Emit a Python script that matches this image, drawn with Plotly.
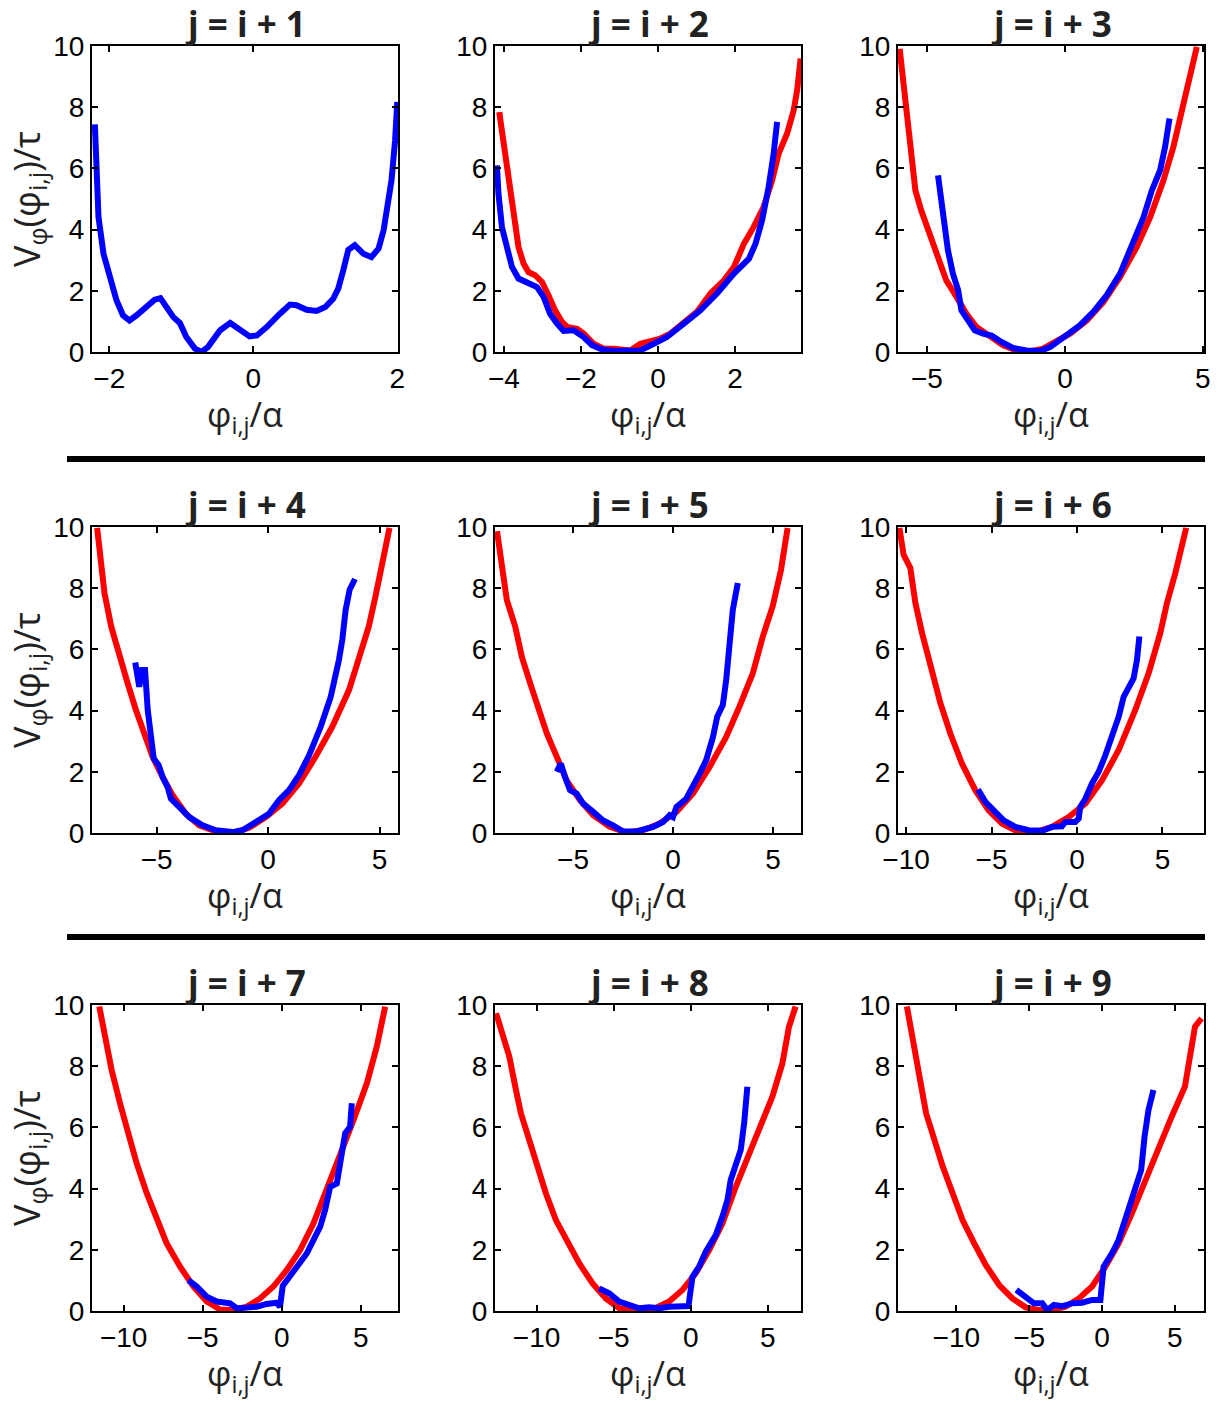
import plotly.graph_objects as go

# ---------------- data ----------------
titles = ["j = i + 1", "j = i + 2", "j = i + 3", "j = i + 4", "j = i + 5",
          "j = i + 6", "j = i + 7", "j = i + 8", "j = i + 9"]
x_label = "φ<sub>i,j</sub>/α"
y_label = "V<sub>φ</sub>(φ<sub>i,j</sub>)/τ"

x_ranges = [[-2.24, 2.01], [-4.23, 3.71], [-6.05, 5.04],
            [-7.9, 5.83], [-8.9, 6.4], [-10.47, 7.43],
            [-12.0, 7.35], [-12.7, 7.15], [-14.0, 7.0]]
x_dticks = [2, 2, 5, 5, 5, 5, 5, 5, 5]
y_range = [0, 10]
y_dtick = 2

# panel 1 (blue only)
blue1_x = [-2.20, -2.18, -2.15, -2.08, -1.99, -1.90, -1.81, -1.72, -1.62, -1.48, -1.37, -1.29,
           -1.20, -1.11, -1.02, -0.93, -0.81, -0.72, -0.63, -0.46, -0.32, -0.19, -0.05, 0.05,
           0.19, 0.37, 0.51, 0.60, 0.74, 0.88, 1.00, 1.11, 1.18, 1.25, 1.32, 1.41, 1.53, 1.64,
           1.74, 1.81, 1.88, 1.92, 1.97, 2.00]
blue1_y = [7.44, 5.39, 4.41, 3.21, 2.45, 1.69, 1.20, 1.03, 1.20, 1.47, 1.71, 1.76,
           1.42, 1.14, 0.95, 0.49, 0.11, 0.00, 0.16, 0.71, 0.95, 0.71, 0.51, 0.54,
           0.82, 1.25, 1.55, 1.53, 1.38, 1.34, 1.47, 1.74, 2.07, 2.67, 3.34, 3.49, 3.21, 3.10,
           3.38, 3.98, 4.85, 5.61, 6.92, 8.17]
red1_x = []
red1_y = []

# panel 2
red2_x = [-4.12, -4.01, -3.88, -3.75, -3.62, -3.49, -3.36, -3.19, -3.01, -2.84, -2.67, -2.49,
          -2.36, -2.10, -1.93, -1.67, -1.41, -1.15, -0.89, -0.72, -0.46, -0.20, 0.06, 0.32,
          0.67, 1.01, 1.36, 1.71, 1.97, 2.23, 2.48, 2.74, 2.96, 3.13, 3.35, 3.52, 3.61, 3.70]
red2_y = [7.84, 6.92, 5.72, 4.52, 3.43, 2.89, 2.61, 2.51, 2.29, 1.85, 1.36, 0.98,
          0.82, 0.76, 0.60, 0.27, 0.11, 0.11, 0.05, 0.05, 0.27, 0.36, 0.44, 0.60,
          0.98, 1.31, 1.91, 2.34, 2.78, 3.54, 4.08, 4.74, 5.61, 6.48, 7.14, 7.90, 8.55, 9.59]
blue2_x = [-4.18, -4.14, -4.05, -3.92, -3.79, -3.62, -3.40, -3.14, -2.97, -2.80, -2.62, -2.45,
           -2.19, -1.93, -1.71, -1.45, -1.15, -0.81, -0.46, -0.11, 0.23, 0.67, 1.10, 1.53,
           1.97, 2.36, 2.53, 2.70, 2.87, 3.00, 3.09]
blue2_y = [6.10, 5.17, 4.08, 3.32, 2.78, 2.40, 2.25, 2.12, 1.80, 1.25, 0.93, 0.69,
           0.71, 0.49, 0.22, 0.08, 0.03, 0.02, 0.05, 0.27, 0.49, 0.93, 1.36, 1.91,
           2.56, 3.05, 3.54, 4.30, 5.39, 6.48, 7.52]

# panel 3
red3_x = [-5.99, -5.81, -5.63, -5.42, -5.21, -4.90, -4.60, -4.30, -3.93, -3.57, -3.21, -2.72,
          -2.24, -1.76, -1.27, -0.79, -0.30, 0.18, 0.79, 1.39, 2.00, 2.60, 3.09, 3.57,
          3.93, 4.24, 4.48, 4.78]
red3_y = [9.91, 8.44, 6.70, 5.28, 4.63, 3.87, 3.00, 2.34, 1.80, 1.25, 0.82, 0.49,
          0.22, 0.05, 0.02, 0.11, 0.33, 0.60, 1.03, 1.63, 2.45, 3.43, 4.41, 5.61,
          6.70, 7.90, 8.77, 9.97]
blue3_x = [-4.60, -4.48, -4.36, -4.24, -4.06, -3.87, -3.75, -3.51, -3.27, -2.97, -2.66, -2.30,
           -1.88, -1.39, -0.91, -0.54, -0.06, 0.54, 1.03, 1.51, 2.00, 2.42, 2.85, 3.15,
           3.45, 3.63, 3.79]
blue3_y = [5.77, 4.96, 4.08, 3.32, 2.56, 2.02, 1.36, 1.03, 0.71, 0.60, 0.54, 0.33,
           0.13, 0.05, 0.03, 0.16, 0.47, 0.87, 1.31, 1.85, 2.56, 3.49, 4.41, 5.28,
           5.94, 6.70, 7.63]

# panel 4
red4_x = [-7.67, -7.52, -7.34, -7.04, -6.67, -6.30, -5.93, -5.55, -5.18, -4.73, -4.28, -3.69,
          -3.09, -2.34, -1.60, -0.85, -0.10, 0.64, 1.39, 2.13, 2.88, 3.63, 4.07, 4.52,
          4.82, 5.12, 5.45]
red4_y = [9.97, 8.93, 7.84, 6.75, 5.76, 4.89, 4.02, 3.25, 2.49, 1.83, 1.23, 0.63,
          0.25, 0.05, 0.00, 0.17, 0.52, 0.96, 1.62, 2.49, 3.47, 4.67, 5.66, 6.75,
          7.73, 8.82, 9.97]
blue4_x = [-5.96, -5.78, -5.66, -5.52, -5.40, -5.25, -5.13, -4.91, -4.73, -4.51, -4.36, -3.99,
           -3.54, -2.94, -2.34, -1.60, -1.15, -0.55, 0.04, 0.49, 0.94, 1.39, 1.84, 2.36,
           2.81, 3.18, 3.33, 3.48, 3.66, 3.90]
blue4_y = [5.57, 4.78, 5.33, 5.33, 4.02, 3.14, 2.43, 2.22, 1.83, 1.51, 1.12, 0.85,
           0.52, 0.25, 0.09, 0.03, 0.09, 0.36, 0.63, 1.07, 1.40, 1.89, 2.54, 3.47,
           4.45, 5.66, 6.31, 7.29, 7.95, 8.30]

# panel 5
red5_x = [-8.80, -8.55, -8.31, -7.89, -7.56, -7.14, -6.73, -6.31, -5.81, -5.32, -4.65, -3.99,
          -3.16, -2.33, -1.50, -0.66, 0.17, 1.00, 1.83, 2.66, 3.32, 3.99, 4.49, 4.98,
          5.40, 5.73]
red5_y = [9.86, 8.71, 7.62, 6.75, 5.76, 4.89, 4.02, 3.25, 2.49, 1.72, 1.07, 0.58,
          0.20, 0.02, 0.09, 0.31, 0.69, 1.29, 2.16, 3.14, 4.13, 5.22, 6.42, 7.40,
          8.60, 9.97]
blue5_x = [-5.81, -5.61, -5.40, -5.15, -4.82, -4.49, -3.99, -3.49, -3.00, -2.49, -1.83, -1.00,
           -0.50, -0.17, 0.00, 0.17, 0.66, 1.00, 1.33, 1.66, 2.00, 2.21, 2.49, 2.66,
           2.82, 2.99, 3.24]
blue5_y = [2.00, 2.27, 1.83, 1.40, 1.29, 0.96, 0.69, 0.41, 0.25, 0.05, 0.05, 0.20,
           0.36, 0.58, 0.52, 0.85, 1.12, 1.51, 1.94, 2.38, 3.14, 3.80, 4.18, 5.00,
           5.98, 7.29, 8.17]

# panel 6
red6_x = [-10.39, -10.14, -9.75, -9.45, -9.06, -8.58, -7.99, -7.41, -6.73, -5.95, -5.17, -4.39,
          -3.41, -2.44, -1.46, -0.49, 0.49, 1.46, 2.44, 3.41, 4.19, 4.87, 5.26, 5.75,
          6.14, 6.39]
red6_y = [9.97, 9.09, 8.66, 7.51, 6.53, 5.44, 4.24, 3.25, 2.27, 1.40, 0.74, 0.31,
          0.03, 0.03, 0.20, 0.52, 0.96, 1.72, 2.71, 4.02, 5.22, 6.53, 7.51, 8.49,
          9.37, 9.97]
blue6_x = [-5.79, -5.36, -4.87, -4.29, -3.61, -2.83, -2.05, -1.46, -0.88, -0.68, -0.10, 0.10,
           0.19, 0.49, 0.88, 1.27, 1.66, 2.05, 2.44, 2.73, 2.92, 3.31, 3.51, 3.65]
blue6_y = [1.42, 1.02, 0.74, 0.41, 0.20, 0.09, 0.07, 0.20, 0.22, 0.36, 0.36, 0.47,
           0.85, 1.12, 1.62, 2.00, 2.54, 3.14, 3.80, 4.45, 4.67, 5.05, 5.66, 6.42]

# panel 7
red7_x = [-11.54, -11.18, -10.76, -10.23, -9.70, -9.18, -8.54, -7.91, -7.28, -6.43, -5.59, -4.75,
          -3.90, -3.06, -2.22, -1.37, -0.53, 0.32, 1.16, 2.00, 2.85, 3.69, 4.54, 5.38,
          6.01, 6.54]
red7_y = [9.95, 8.97, 7.88, 6.79, 5.81, 4.83, 3.85, 2.97, 2.21, 1.45, 0.80, 0.31,
          0.05, 0.03, 0.14, 0.41, 0.80, 1.34, 1.99, 2.86, 3.95, 5.04, 6.24, 7.44,
          8.64, 9.95]
blue7_x = [-5.91, -5.38, -4.75, -4.11, -3.27, -2.85, -2.22, -1.58, -0.95, -0.32, -0.11, 0.06,
           0.42, 0.95, 1.58, 2.11, 2.43, 2.74, 3.06, 3.48, 3.80, 4.01, 4.32, 4.43]
blue7_y = [1.01, 0.80, 0.47, 0.31, 0.25, 0.09, 0.11, 0.14, 0.23, 0.27, 0.14, 0.82,
           1.07, 1.45, 1.88, 2.43, 2.76, 3.30, 4.06, 4.17, 5.04, 5.81, 6.02, 6.79]

# panel 8
red8_x = [-12.63, -12.20, -11.77, -11.34, -11.02, -10.48, -9.94, -9.40, -8.75, -8.10, -7.24, -6.37,
          -5.51, -4.64, -3.56, -2.48, -1.40, -0.54, 0.32, 1.19, 2.05, 2.92, 3.78, 4.64,
          5.29, 5.94, 6.37, 6.80]
red8_y = [9.73, 9.07, 8.31, 7.22, 6.46, 5.59, 4.72, 3.85, 2.97, 2.32, 1.56, 0.90,
          0.41, 0.09, 0.00, 0.05, 0.31, 0.69, 1.23, 1.99, 2.86, 4.06, 5.15, 6.24,
          7.00, 8.09, 9.29, 9.95]
blue8_x = [-5.94, -5.29, -4.64, -4.00, -3.35, -2.70, -2.05, -1.40, -0.76, -0.15, 0.11, 0.54,
           0.97, 1.62, 2.05, 2.38, 2.59, 2.81, 3.24, 3.46, 3.67]
blue8_y = [0.74, 0.58, 0.31, 0.20, 0.09, 0.12, 0.09, 0.14, 0.16, 0.16, 1.12, 1.45,
           1.94, 2.48, 3.08, 3.63, 4.28, 4.66, 5.26, 6.13, 7.33]

# panel 9
red9_x = [-13.39, -12.98, -12.53, -12.07, -11.50, -10.93, -10.25, -9.57, -8.77, -7.97, -7.06, -6.15,
          -5.24, -4.33, -3.42, -2.51, -1.59, -0.68, 0.23, 1.14, 2.05, 2.96, 3.87, 4.78,
          5.69, 6.04, 6.38, 6.83]
red9_y = [9.95, 8.86, 7.55, 6.46, 5.59, 4.72, 3.85, 2.97, 2.21, 1.50, 0.85, 0.41,
          0.12, 0.03, 0.03, 0.14, 0.41, 0.80, 1.45, 2.21, 3.19, 4.28, 5.37, 6.35,
          7.33, 8.42, 9.29, 9.56]
blue9_x = [-5.88, -5.24, -4.67, -4.10, -3.76, -3.30, -2.73, -2.05, -1.37, -0.68, -0.11, 0.11,
           0.68, 1.14, 1.48, 1.82, 2.05, 2.39, 2.69, 2.92, 3.19, 3.53]
blue9_y = [0.69, 0.47, 0.25, 0.25, 0.03, 0.20, 0.16, 0.25, 0.27, 0.36, 0.36, 1.45,
           1.88, 2.32, 2.86, 3.30, 3.74, 4.17, 4.61, 5.70, 6.57, 7.22]

red_x = [red1_x, red2_x, red3_x, red4_x, red5_x, red6_x, red7_x, red8_x, red9_x]
red_y = [red1_y, red2_y, red3_y, red4_y, red5_y, red6_y, red7_y, red8_y, red9_y]
blue_x = [blue1_x, blue2_x, blue3_x, blue4_x, blue5_x, blue6_x, blue7_x, blue8_x, blue9_x]
blue_y = [blue1_y, blue2_y, blue3_y, blue4_y, blue5_y, blue6_y, blue7_y, blue8_y, blue9_y]

# ---------------- layout ----------------
W, H = 1222, 1402
col_px = [(92, 398), (495, 801), (898, 1204)]
row_px = [(46, 352), (527, 833), (1005, 1311)]

LABEL_FONT = "Open Sans, Noto Sans, DejaVu Sans, sans-serif"
TICK_FONT = "Liberation Sans, Arial, sans-serif"

fig = go.Figure()
layout = dict(width=W, height=H, margin=dict(l=0, r=0, t=0, b=0, autoexpand=False),
              paper_bgcolor="white", plot_bgcolor="white", showlegend=False)
annotations = []
shapes = []

for k in range(9):
    r, c = divmod(k, 3)
    ax = "" if k == 0 else str(k + 1)
    xd = [col_px[c][0] / W, col_px[c][1] / W]
    yd = [1 - row_px[r][1] / H, 1 - row_px[r][0] / H]
    common = dict(showline=True, linecolor="black", linewidth=2, mirror="ticks",
                  ticks="inside", ticklen=6, tickwidth=1.5, tickcolor="black",
                  showgrid=False, zeroline=False, automargin=False,
                  tickfont=dict(family=TICK_FONT, size=28, color="black"))
    layout["xaxis" + ax] = dict(domain=xd, range=x_ranges[k], dtick=x_dticks[k], tick0=0,
                                anchor="y" + ax, **common)
    yax = dict(domain=yd, range=y_range, dtick=y_dtick, tick0=0, anchor="x" + ax, **common)
    if c == 0:
        yax["title"] = dict(text=y_label,
                            font=dict(family=LABEL_FONT, size=36, color="#222"), standoff=2)
    layout["yaxis" + ax] = yax

    if red_x[k]:
        fig.add_trace(go.Scatter(x=red_x[k], y=red_y[k], mode="lines",
                                 line=dict(color="#ff0000", width=6),
                                 xaxis="x" + ax, yaxis="y" + ax))
    fig.add_trace(go.Scatter(x=blue_x[k], y=blue_y[k], mode="lines",
                             line=dict(color="#0000ff", width=6),
                             xaxis="x" + ax, yaxis="y" + ax))

    # panel title
    annotations.append(dict(text="<b>" + titles[k] + "</b>", xref="paper", yref="paper",
                            x=(xd[0] + xd[1]) / 2, y=yd[1], yanchor="bottom", xanchor="center",
                            yshift=-2, showarrow=False, borderpad=0,
                            font=dict(family=LABEL_FONT, size=35, color="#222")))
    # x-axis label
    annotations.append(dict(text=x_label, xref="paper", yref="paper",
                            x=(xd[0] + xd[1]) / 2, y=yd[0], yanchor="middle", xanchor="center",
                            yshift=-64, showarrow=False, borderpad=0,
                            font=dict(family=LABEL_FONT, size=34, color="#222")))

for ypx in (459, 937):
    shapes.append(dict(type="line", xref="paper", yref="paper",
                       x0=67 / W, x1=1205 / W, y0=1 - ypx / H, y1=1 - ypx / H,
                       line=dict(color="black", width=6)))

layout["annotations"] = annotations
layout["shapes"] = shapes
fig.update_layout(**layout)
fig.write_html("out.html")
